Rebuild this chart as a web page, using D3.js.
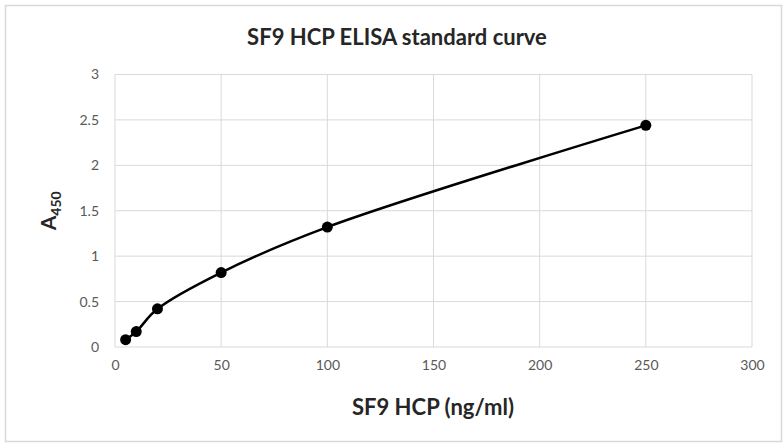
<!DOCTYPE html>
<html>
<head>
<meta charset="utf-8">
<script src="https://cdn.jsdelivr.net/npm/d3@7"></script>
<style>
  body { margin: 0; background: #fff; }
  svg { display: block; font-family: Lato, "Open Sans", sans-serif; }
</style>
</head>
<body>
<svg></svg>
<script>
// chart data
const concentrations = [5, 10, 20, 50, 100, 250];
const absorbance = [0.08, 0.17, 0.42, 0.82, 1.32, 2.44];
const xTicks = [0, 50, 100, 150, 200, 250, 300];
const yTicks = [0, 0.5, 1, 1.5, 2, 2.5, 3];

const width = 784, height = 445;
const margin = { top: 74.5, bottom: 98, left: 115, right: 32 };

const svg = d3.select("svg")
    .attr("width", width)
    .attr("height", height);

// outer chart frame
svg.append("rect")
    .attr("x", 5.5).attr("y", 5.5)
    .attr("width", width - 8).attr("height", height - 9)
    .attr("fill", "#fff")
    .attr("stroke", "#d9d9d9")
    .attr("stroke-width", 1.5);

const x = d3.scaleLinear().domain([0, 300]).range([margin.left, width - margin.right]);
const y = d3.scaleLinear().domain([0, 3]).range([height - margin.bottom, margin.top]);

// gridlines
svg.append("g")
  .selectAll("line.v")
  .data(xTicks)
  .join("line")
    .attr("x1", d => x(d)).attr("x2", d => x(d))
    .attr("y1", y(0)).attr("y2", y(3))
    .attr("stroke", "#d9d9d9").attr("stroke-width", 1);

svg.append("g")
  .selectAll("line.h")
  .data(yTicks)
  .join("line")
    .attr("x1", x(0)).attr("x2", x(300))
    .attr("y1", d => y(d)).attr("y2", d => y(d))
    .attr("stroke", "#d9d9d9").attr("stroke-width", 1);

// axes (labels only, lines come from grid)
const xAxis = svg.append("g")
    .attr("transform", `translate(0,${y(0)})`)
    .call(d3.axisBottom(x).tickValues(xTicks).tickSize(0).tickPadding(13));
const yAxis = svg.append("g")
    .attr("transform", `translate(${x(0)},0)`)
    .call(d3.axisLeft(y).tickValues(yTicks).tickSize(0).tickPadding(16).tickFormat(d3.format("")));

[xAxis, yAxis].forEach(a => {
  a.select(".domain").remove();
  a.selectAll("text")
    .attr("fill", "#595959")
    .style("font-family", "Lato, sans-serif")
    .style("font-size", "14px");
});

// smoothed curve
const pts = concentrations.map((c, i) => [c, absorbance[i]]);
svg.append("path")
    .datum(pts)
    .attr("fill", "none")
    .attr("stroke", "#000")
    .attr("stroke-width", 2.5)
    .attr("d", d3.line()
      .x(d => x(d[0]))
      .y(d => y(d[1]))
      .curve(d3.curveCatmullRom.alpha(0.5)));

svg.append("g")
  .selectAll("circle")
  .data(pts)
  .join("circle")
    .attr("cx", d => x(d[0]))
    .attr("cy", d => y(d[1]))
    .attr("r", 5.5)
    .attr("fill", "#000");

// title
svg.append("text")
    .attr("x", 397).attr("y", 45)
    .attr("text-anchor", "middle")
    .style("font-size", "22px")
    .style("font-weight", "bold")
    .attr("fill", "#262626")
    .text("SF9 HCP ELISA standard curve");

// x axis title
svg.append("text")
    .attr("x", 433).attr("y", 415)
    .attr("text-anchor", "middle")
    .style("font-size", "22px")
    .style("font-weight", "bold")
    .attr("fill", "#262626")
    .text("SF9 HCP (ng/ml)");

// y axis title with subscript
const yt = svg.append("text")
    .attr("transform", `translate(56,${y(1.5)}) rotate(-90)`)
    .attr("text-anchor", "middle")
    .style("font-size", "21px")
    .style("font-weight", "bold")
    .attr("fill", "#262626");
yt.append("tspan").text("A");
yt.append("tspan").attr("dy", 5).style("font-size", "14px").text("450");
</script>
</body>
</html>
